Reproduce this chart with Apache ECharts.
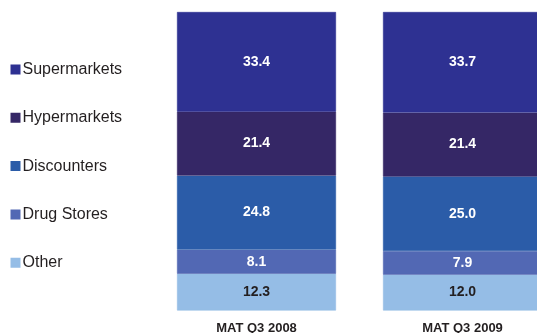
<!DOCTYPE html>
<html>
<head>
<meta charset="utf-8">
<style>
  html, body { margin: 0; padding: 0; background: #ffffff; }
  #chart { width: 537px; height: 333px; }
</style>
<script src="https://cdn.jsdelivr.net/npm/echarts@6/dist/echarts.min.js"></script>
</head>
<body>
<div id="chart"></div>
<script>
// Channel share (%) by period, stacked from the bottom up
const periods = ['MAT Q3 2008', 'MAT Q3 2009'];
const other = [12.3, 12.0];
const drugStores = [8.1, 7.9];
const discounters = [24.8, 25.0];
const hypermarkets = [21.4, 21.4];
const supermarkets = [33.4, 33.7];

const legendOrder = ['Supermarkets', 'Hypermarkets', 'Discounters', 'Drug Stores', 'Other'];

const textDark = '#231f20';
const fontFamily = '"Liberation Sans", Arial, Helvetica, sans-serif';

function makeSeries(name, values, color, labelColor) {
  return {
    name: name,
    type: 'bar',
    stack: 'share',
    barWidth: 159,
    data: values,
    // a hairline border in the fill colour closes the seams between segments
    itemStyle: { color: color, borderColor: color, borderWidth: 0.6 },
    label: {
      show: true,
      position: 'inside',
      color: labelColor,
      fontFamily: fontFamily,
      fontWeight: 'bold',
      fontSize: 14,
      formatter: p => Number(p.value).toFixed(1)
    },
    emphasis: { disabled: true }
  };
}

const chart = echarts.init(document.getElementById('chart'), null, { renderer: 'canvas' });
chart.setOption({
  animation: false,
  backgroundColor: '#ffffff',
  // the plot runs past the right edge so the second column is cut off there
  grid: {
    left: 153.5, top: 12, width: 412, height: 298.5,
    containLabel: false,
    outerBoundsMode: 'none'
  },
  legend: {
    orient: 'vertical',
    left: 10.5,
    top: 59.5,
    padding: 0,
    data: legendOrder,
    icon: 'rect',
    itemWidth: 8,
    itemHeight: 8,
    itemGap: 28.3,
    selectedMode: false,
    textStyle: {
      color: textDark,
      fontFamily: fontFamily,
      fontSize: 16,
      lineHeight: 20,
      padding: [0, 0, 0, -2]
    }
  },
  xAxis: {
    type: 'category',
    data: periods,
    axisLine: { show: false },
    axisTick: { show: false },
    axisLabel: {
      color: textDark,
      fontFamily: fontFamily,
      fontWeight: 'bold',
      fontSize: 13,
      margin: 11
    }
  },
  yAxis: {
    type: 'value',
    min: 0,
    max: 100,
    show: false
  },
  series: [
    makeSeries('Other', other, '#95bde6', textDark),
    makeSeries('Drug Stores', drugStores, '#5268b4', '#ffffff'),
    makeSeries('Discounters', discounters, '#2b5ca8', '#ffffff'),
    makeSeries('Hypermarkets', hypermarkets, '#352766', '#ffffff'),
    makeSeries('Supermarkets', supermarkets, '#2e3192', '#ffffff')
  ]
});
</script>
</body>
</html>
